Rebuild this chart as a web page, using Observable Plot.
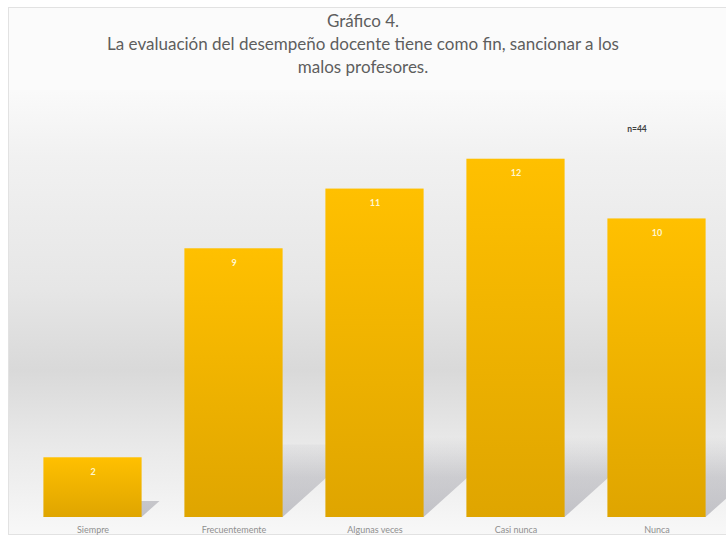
<!DOCTYPE html>
<html>
<head>
<meta charset="utf-8">
<script src="https://cdn.jsdelivr.net/npm/d3@7"></script>
<script src="https://cdn.jsdelivr.net/npm/@observablehq/plot@0.6"></script>
<style>
  html, body { margin: 0; padding: 0; background: #ffffff; }
  #page { position: relative; width: 726px; height: 539px; overflow: hidden; }
  #panel {
    position: absolute; left: 8px; top: 7px; width: 730px; height: 528px;
    border: 1px solid #e2e2e2; background: #fbfbfb; box-sizing: border-box;
  }
  #plotbg {
    position: absolute; left: 9px; top: 90px; width: 730px; height: 444px;
    background: linear-gradient(to bottom,
      #fafafa 0%, #f1f1f1 15%, #e6e6e6 45%, #d9d9d9 63%,
      #e9e9e9 80%, #f4f4f4 95%, #f8f8f8 100%);
  }
  #title {
    position: absolute; left: 0; top: 9px; width: 726px; text-align: center;
    font-family: Lato, "Open Sans", sans-serif; font-size: 17px; line-height: 23px;
    color: #5e5e5e;
  }
  #chart { position: absolute; left: 0; top: 90px; }
</style>
</head>
<body>
<svg width="0" height="0" style="position:absolute">
  <defs>
    <linearGradient id="barFill" x1="0" y1="0" x2="0" y2="1">
      <stop offset="0%" stop-color="#ffc000"/>
      <stop offset="100%" stop-color="#dfa500"/>
    </linearGradient>
  </defs>
</svg>
<div id="page">
  <div id="panel"></div>
  <div id="plotbg"></div>
  <div id="title">Gráfico 4.<br>La evaluación del desempeño docente tiene como fin, sancionar a los<br>malos profesores.</div>
  <div id="chart"></div>
</div>
<script>
// Respuestas (n = 44)
const categories = ["Siempre", "Frecuentemente", "Algunas veces", "Casi nunca", "Nunca"];
const counts = [2, 9, 11, 12, 10];
const sampleLabel = "n=44";

const data = categories.map((c, i) => ({category: c, count: counts[i]}));

const barInset = 21.4;

const plot = Plot.plot({
  width: 726,
  height: 449,
  marginLeft: 21,
  marginRight: 0,
  marginTop: 9,
  marginBottom: 22,
  style: {fontFamily: "Lato, 'Open Sans', sans-serif", background: "transparent"},
  x: {domain: categories, range: [20.6, 729.4], padding: 0, label: null},
  y: {domain: [0, 14], label: null, axis: null},
  marks: [
    Plot.barY(data, {
      x: "category", y: "count",
      fill: "url(#barFill)",
      insetLeft: barInset, insetRight: barInset
    }),
    Plot.text(data, {
      x: "category", y: "count", text: d => String(d.count),
      dy: 14, fill: "#fff6d0", fontSize: 9, fontWeight: "bold"
    }),
    Plot.text([{category: "Nunca", y: 13}], {
      x: "category", y: "y", text: () => sampleLabel,
      dx: -20, fill: "#3f3f3f", fontSize: 8.5, fontWeight: "bold"
    }),
    Plot.axisX({tickSize: 0, tickPadding: 9, fontSize: 9, color: "#8f8f8f", label: null})
  ]
});

document.getElementById("chart").appendChild(plot);

// Perspective shadows cast to the back-right of each bar, fading upward.
const xs = plot.scale("x");
const ys = plot.scale("y");
const ns = "http://www.w3.org/2000/svg";
const base = ys.apply(0);

const defs = document.createElementNS(ns, "defs");
const grad = document.createElementNS(ns, "linearGradient");
grad.setAttribute("id", "shadowFade");
grad.setAttribute("gradientUnits", "userSpaceOnUse");
grad.setAttribute("x1", 0); grad.setAttribute("x2", 0);
grad.setAttribute("y1", base); grad.setAttribute("y2", base - 80);
[["0%", 0.5], ["50%", 0.35], ["100%", 0]].forEach(([o, a]) => {
  const s = document.createElementNS(ns, "stop");
  s.setAttribute("offset", o);
  s.setAttribute("stop-color", "#8e8e98");
  s.setAttribute("stop-opacity", a);
  grad.appendChild(s);
});
defs.appendChild(grad);

const g = document.createElementNS(ns, "g");
g.appendChild(defs);
data.forEach(d => {
  const x0 = xs.apply(d.category) + barInset;
  const x1 = xs.apply(d.category) + xs.bandwidth - barInset;
  const h = base - ys.apply(d.count);
  const dx = 0.3 * h, dy = 0.27 * h;
  const p = document.createElementNS(ns, "polygon");
  p.setAttribute("points", [[x0, base], [x1, base], [x1 + dx, base - dy], [x0 + dx, base - dy]].map(q => q.join(",")).join(" "));
  p.setAttribute("fill", "url(#shadowFade)");
  g.appendChild(p);
});
const firstMark = plot.querySelector("g");
plot.insertBefore(g, firstMark);
</script>
</body>
</html>
